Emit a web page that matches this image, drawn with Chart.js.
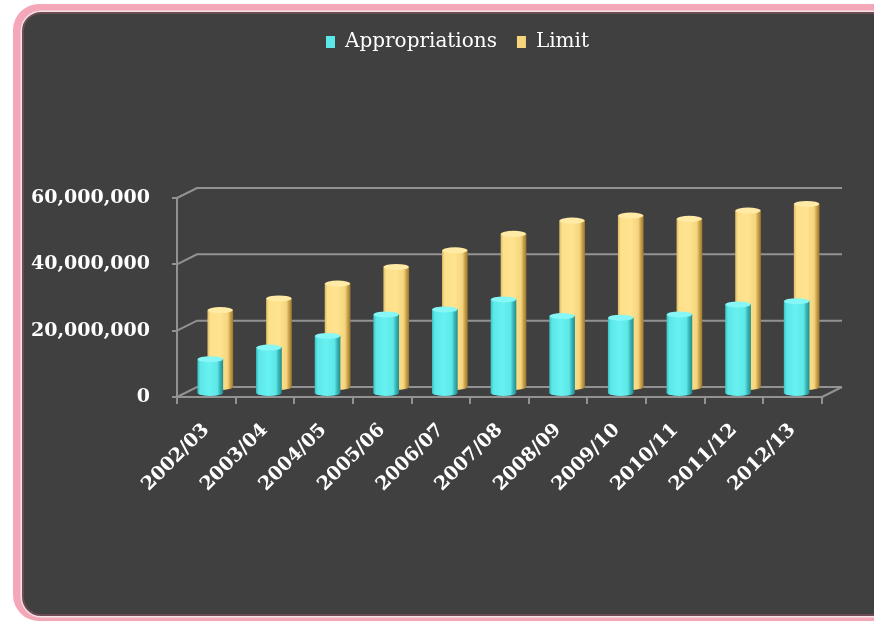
<!DOCTYPE html>
<html>
<head>
<meta charset="utf-8">
<title>Appropriations and Limit</title>
<script src="https://cdn.jsdelivr.net/npm/chart.js@4.4.0/dist/chart.umd.min.js"></script>
<style>
  body { margin: 0; background: #fff; }
  .page { position: relative; width: 874px; height: 621px; overflow: hidden; }
  .frame { position: absolute; left: 13px; top: 4px; width: 900px; height: 617px; background: #f4a7b9; border-radius: 26px; }
  .panel { position: absolute; left: 9px; top: 8px; right: 9px; bottom: 5px; background: #404040;
           border: 2px solid #6d4b54; border-radius: 19px; box-shadow: 0 0 0 1.5px #f3e2e6; }
  #chart { position: absolute; left: 0; top: 0; }
</style>
</head>
<body>
<div class="page">
  <div class="frame"><div class="panel"></div></div>
  <canvas id="chart" width="874" height="621"></canvas>
</div>
<script>
const years = ['2002/03', '2003/04', '2004/05', '2005/06', '2006/07', '2007/08',
               '2008/09', '2009/10', '2010/11', '2011/12', '2012/13'];
const appropriations = [10500000, 14000000, 17500000, 24000000, 25500000, 28500000,
                        23500000, 23000000, 24000000, 27000000, 28000000];
const limit = [23500000, 27000000, 31500000, 36500000, 41500000, 46500000,
               50500000, 52000000, 51000000, 53500000, 55500000];
const yTicks = [0, 20000000, 40000000, 60000000];

// fake 3D: how deep the floor / back wall goes
const DEPTH_X = 20;
const DEPTH_Y = -10;
// offset of each series inside that depth (front row, back row)
const rowShift = [[4, -3], [14, -9]];

const gridColor = '#929292';
const flatColors = ['#5ce7e8', '#f7d57c'];
const capColors = ['#86f6f6', '#ffeba6'];
const axisFont = { family: 'DejaVu Serif', size: 19, weight: 'bold' };

// horizontal gradient so each bar reads like a cylinder
function cylinderFill(flat, stops) {
  return (c) => {
    if (c.type !== 'data') return flat;
    const cx = c.chart.scales.x ? c.chart.scales.x.getPixelForValue(c.dataIndex) : NaN;
    if (!isFinite(cx)) return flat;
    const g = c.chart.ctx.createLinearGradient(cx - 12.5, 0, cx + 12.5, 0);
    stops.forEach(([p, col]) => g.addColorStop(p, col));
    return g;
  };
}

const cyanStops = [[0, '#3fc6c8'], [0.1, '#5ce7e8'], [0.45, '#68f1f1'], [0.78, '#5de7e7'],
                   [0.88, '#3ab8ba'], [1, '#27908f']];
const yellowStops = [[0, '#e2c06a'], [0.1, '#ffe08b'], [0.5, '#ffe38f'], [0.8, '#f5d47e'],
                     [0.9, '#c9a24c'], [1, '#a07c30']];

// back wall, floor and side lines of the 3D box, plus cylinder caps
const wallPlugin = {
  id: 'wall',
  beforeDatasetsDraw(chart) {
    const { ctx, chartArea } = chart;
    const y = chart.scales.y;
    ctx.save();
    ctx.strokeStyle = gridColor;
    ctx.lineWidth = 2;
    ctx.beginPath();
    yTicks.forEach((v) => {
      const py = y.getPixelForValue(v);
      ctx.moveTo(chartArea.left, py);
      ctx.lineTo(chartArea.left + DEPTH_X, py + DEPTH_Y);
      ctx.lineTo(chartArea.right + DEPTH_X, py + DEPTH_Y);
    });
    ctx.moveTo(chartArea.right, chartArea.bottom);
    ctx.lineTo(chartArea.right + DEPTH_X, chartArea.bottom + DEPTH_Y);
    ctx.stroke();
    ctx.restore();
  },
  beforeDatasetDraw(chart, args) {
    const [dx, dy] = rowShift[args.index];
    chart.ctx.save();
    chart.ctx.translate(dx, dy);
  },
  afterDatasetDraw(chart, args) {
    const ctx = chart.ctx;
    args.meta.data.forEach((bar) => {
      const { x, y, base, width } = bar.getProps(['x', 'y', 'base', 'width'], true);
      const rx = width / 2;
      // rounded bottom
      ctx.fillStyle = bar.options.backgroundColor;
      ctx.beginPath();
      ctx.ellipse(x, base, rx, 3, 0, 0, Math.PI);
      ctx.fill();
      // top cap
      ctx.fillStyle = capColors[args.index];
      ctx.beginPath();
      ctx.ellipse(x, y, rx, 3, 0, 0, Math.PI * 2);
      ctx.fill();
    });
    ctx.restore();
  }
};

// legend sits high above the plot, centred over the whole panel
const legendPlacement = {
  id: 'legendPlacement',
  afterLayout(chart) {
    const lg = chart.legend;
    const h = lg.height;
    lg.top = 12;
    lg.bottom = 12 + h;
    lg.left = 93;
    lg.right = 822;
    lg.width = lg.right - lg.left;
  }
};

new Chart(document.getElementById('chart'), {
  type: 'bar',
  data: {
    labels: years,
    datasets: [
      {
        label: 'Appropriations',
        data: appropriations,
        backgroundColor: cylinderFill(flatColors[0], cyanStops),
        borderWidth: 0,
        grouped: false,
        barThickness: 25,
        clip: false
      },
      {
        label: 'Limit',
        data: limit,
        backgroundColor: cylinderFill(flatColors[1], yellowStops),
        borderWidth: 0,
        grouped: false,
        barThickness: 25,
        clip: false
      }
    ]
  },
  options: {
    responsive: false,
    animation: false,
    layout: { padding: { top: 12, left: 20, right: 52, bottom: 0 } },
    plugins: {
      legend: {
        labels: {
          color: '#ffffff',
          font: { family: 'DejaVu Serif', size: 20 },
          boxWidth: 9,
          boxHeight: 12,
          padding: 20,
          generateLabels: (chart) => {
            const items = Chart.defaults.plugins.legend.labels.generateLabels(chart);
            items.forEach((it) => { it.fillStyle = flatColors[it.datasetIndex]; it.lineWidth = 0; });
            return items;
          }
        }
      },
      tooltip: { enabled: false }
    },
    scales: {
      x: {
        grid: { drawOnChartArea: false, color: gridColor, lineWidth: 2, tickLength: 7 },
        border: { color: gridColor, width: 2 },
        ticks: { color: '#ffffff', font: { family: 'DejaVu Serif', size: 19, weight: 'bold' },
                 minRotation: 45, maxRotation: 45, padding: 15, autoSkip: false },
        afterFit: (s) => { s.height = 224; }
      },
      y: {
        min: 0,
        max: 60000000,
        afterBuildTicks: (s) => { s.ticks = yTicks.map((v) => ({ value: v })); },
        ticks: { color: '#ffffff', font: axisFont, padding: 22, callback: (v) => v.toLocaleString('en-US') },
        grid: { drawOnChartArea: false, color: gridColor, lineWidth: 2, tickLength: 5 },
        border: { color: gridColor, width: 2 },
        afterFit: (s) => { s.width = 157; s.paddingTop = 198; }
      }
    }
  },
  plugins: [wallPlugin, legendPlacement]
});
</script>
</body>
</html>
